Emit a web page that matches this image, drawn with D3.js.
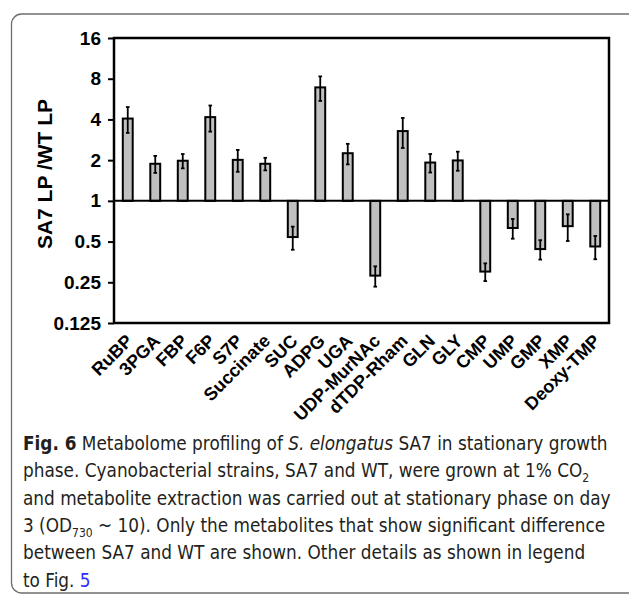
<!DOCTYPE html>
<html>
<head>
<meta charset="utf-8">
<script src="https://cdn.jsdelivr.net/npm/d3@7"></script>
<style>
  body { margin: 0; background: #fff; }
  svg { display: block; }
  .tick-label, .cat-label, .y-title { font-family: "Liberation Sans", Arial, sans-serif; font-weight: bold; fill: #000; }
  .caption { font-family: "Liberation Sans Narrow", "DejaVu Sans Condensed", "Noto Sans", sans-serif; fill: #231f20; white-space: pre; }
</style>
</head>
<body>
<svg id="chart" width="629" height="599"></svg>
<script>
// metabolites, SA7 LP / WT LP ratio and error
var categories = ["RuBP", "3PGA", "FBP", "F6P", "S7P", "Succinate", "SUC", "ADPG", "UGA",
  "UDP-MurNAc", "dTDP-Rham", "GLN", "GLY", "CMP", "UMP", "GMP", "XMP", "Deoxy-TMP"];
var ratios = [4.06, 1.88, 1.98, 4.16, 2.01, 1.88, 0.54, 6.9, 2.25,
  0.28, 3.28, 1.92, 1.99, 0.30, 0.63, 0.44, 0.65, 0.46];
var errors = [0.88, 0.27, 0.24, 0.91, 0.37, 0.20, 0.105, 1.42, 0.39,
  0.048, 0.82, 0.30, 0.32, 0.045, 0.105, 0.072, 0.145, 0.09];
var yTicks = [0.125, 0.25, 0.5, 1, 2, 4, 8, 16];
var yTickLabels = ["0.125", "0.25", "0.5", "1", "2", "4", "8", "16"];
var yTitle = "SA7 LP /WT LP";

// caption lines, each a list of [text, style]
var captionLines = [
  [["Fig. 6", "b"], ["  Metabolome profiling of ", ""], ["S. elongatus", "i"], [" SA7 in stationary growth", ""]],
  [["phase. Cyanobacterial strains, SA7 and WT, were grown at 1% CO", ""], ["2", "sub"]],
  [["and metabolite extraction was carried out at stationary phase on day", ""]],
  [["3 (OD", ""], ["730", "sub"], [" ~ 10). Only the metabolites that show significant difference", ""]],
  [["between SA7 and WT are shown. Other details as shown in legend", ""]],
  [["to Fig. ", ""], ["5", "link"]]
];

var svg = d3.select("#chart");
var W = 629, H = 599;
var plot = { left: 114, right: 609, top: 38, bottom: 323 };

svg.append("rect").attr("width", W).attr("height", H).attr("fill", "#fff");

// rounded figure frame
svg.append("rect")
  .attr("x", 11.5).attr("y", 14)
  .attr("width", 640).attr("height", 579)
  .attr("rx", 10)
  .attr("fill", "none")
  .attr("stroke", "#6d6d6d")
  .attr("stroke-width", 1.3);

var x = d3.scaleBand()
  .domain(categories)
  .range([plot.left, plot.right])
  .paddingInner(0.64)
  .paddingOuter(0.32);

var y = d3.scaleLog().base(2)
  .domain([0.125, 16])
  .range([plot.bottom, plot.top]);

// y axis
var yAxis = d3.axisLeft(y)
  .tickValues(yTicks)
  .tickFormat(function(d, i) { return yTickLabels[i]; })
  .tickSize(6)
  .tickPadding(7);

var ga = svg.append("g")
  .attr("transform", "translate(" + plot.left + ",0)")
  .call(yAxis)
  .attr("font-family", null)
  .attr("font-size", null);
ga.select(".domain").remove();
ga.selectAll(".tick line").attr("stroke", "#000").attr("stroke-width", 2);
ga.selectAll(".tick text")
  .attr("class", "tick-label")
  .attr("font-size", 19);

svg.append("text")
  .attr("class", "y-title")
  .attr("transform", "translate(52,174) rotate(-90)")
  .attr("text-anchor", "middle")
  .attr("font-size", 21)
  .text(yTitle);

// bars from 1
var data = categories.map(function(c, i) { return { cat: c, v: ratios[i], e: errors[i] }; });

svg.selectAll(".bar")
  .data(data)
  .enter().append("rect")
  .attr("class", "bar")
  .attr("x", function(d) { return x(d.cat); })
  .attr("width", x.bandwidth())
  .attr("y", function(d) { return Math.min(y(d.v), y(1)); })
  .attr("height", function(d) { return Math.abs(y(d.v) - y(1)); })
  .attr("fill", "#c0c0c0")
  .attr("stroke", "#000")
  .attr("stroke-width", 2);

// error bars
var eb = svg.selectAll(".err")
  .data(data)
  .enter().append("g")
  .attr("class", "err")
  .attr("transform", function(d) { return "translate(" + (x(d.cat) + x.bandwidth() / 2) + ",0)"; })
  .attr("stroke", "#000")
  .attr("stroke-width", 1.8);
eb.append("line")
  .attr("y1", function(d) { return y(d.v + d.e); })
  .attr("y2", function(d) { return y(d.v - d.e); });
eb.append("line")
  .attr("x1", -1.8).attr("x2", 1.8)
  .attr("y1", function(d) { return y(d.v + d.e); })
  .attr("y2", function(d) { return y(d.v + d.e); });
eb.append("line")
  .attr("x1", -1.8).attr("x2", 1.8)
  .attr("y1", function(d) { return y(d.v - d.e); })
  .attr("y2", function(d) { return y(d.v - d.e); });

// baseline at ratio 1
svg.append("line")
  .attr("x1", plot.left).attr("x2", plot.right)
  .attr("y1", y(1)).attr("y2", y(1))
  .attr("stroke", "#000").attr("stroke-width", 2);

// plot frame
svg.append("rect")
  .attr("x", plot.left).attr("y", plot.top)
  .attr("width", plot.right - plot.left)
  .attr("height", plot.bottom - plot.top)
  .attr("fill", "none")
  .attr("stroke", "#000")
  .attr("stroke-width", 2.5);

// category labels, rotated
svg.selectAll(".cat-label")
  .data(categories)
  .enter().append("text")
  .attr("class", "cat-label")
  .attr("font-size", 18)
  .attr("text-anchor", "end")
  .attr("transform", function(d) {
    return "translate(" + (x(d) + x.bandwidth() / 2 + 6) + "," + (plot.bottom + 19) + ") rotate(-45)";
  })
  .text(function(d) { return d; });

// caption
var cap = svg.append("g").attr("class", "caption").attr("font-size", 18.8);
captionLines.forEach(function(line, i) {
  var t = cap.append("text").attr("x", 23).attr("y", 450 + i * 27.3);
  var shift = 0;
  line.forEach(function(seg) {
    var s = t.append("tspan").text(seg[0]);
    var want = seg[1] === "sub" ? 5 : 0;
    if (want !== shift) { s.attr("dy", want - shift); shift = want; }
    if (seg[1] === "b") s.attr("font-weight", "bold");
    if (seg[1] === "i") s.attr("font-style", "italic");
    if (seg[1] === "sub") s.attr("font-size", 12);
    if (seg[1] === "link") s.attr("fill", "#2d2dff");
  });
});
</script>
</body>
</html>
